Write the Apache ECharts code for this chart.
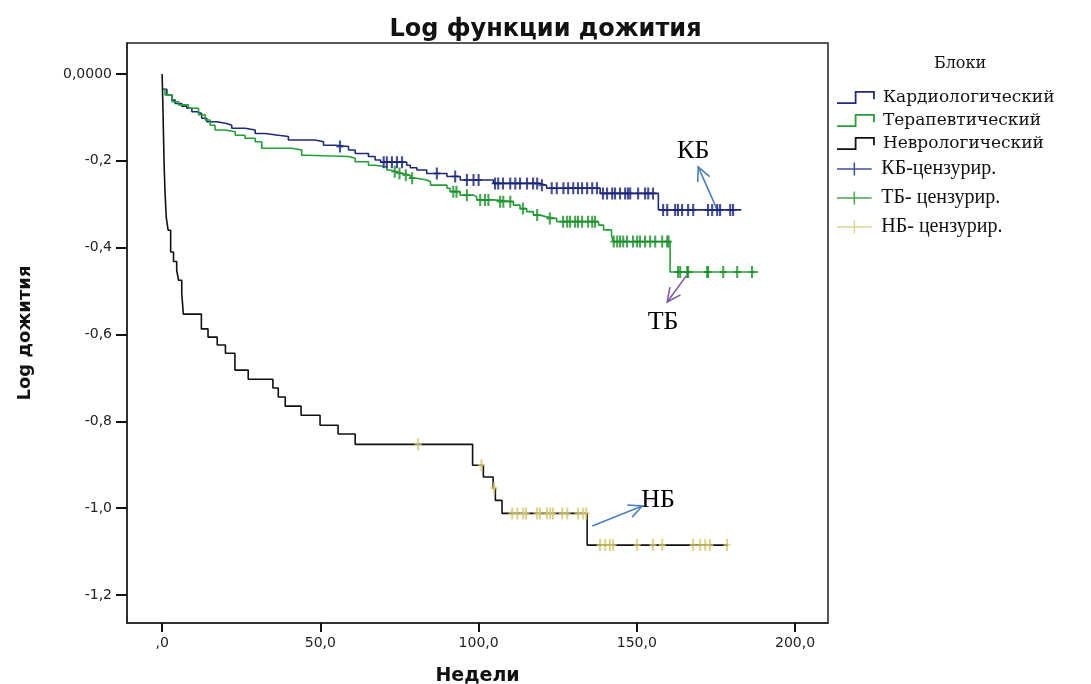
<!DOCTYPE html>
<html>
<head>
<meta charset="utf-8">
<script src="https://cdn.jsdelivr.net/npm/echarts@6/dist/echarts.min.js"></script>
<style>
  html, body { margin: 0; padding: 0; background: #fff; overflow: hidden; }
  #chart { width: 1091px; height: 684px; }
</style>
</head>
<body>
<div id="chart"></div>
<script>
// weeks / log survival step points
const kbWeeks = [0, 1.5, 3.1, 4.1, 6.2, 7.8, 9.4, 11, 12.5, 14.1, 17.3, 20.4, 22, 26.2, 29.4, 32.5, 36.7, 39.9, 48.3, 51,
  54.7, 58.9, 61, 65.2, 67.3, 69, 77.3, 78.4, 80.5, 83.6, 90, 94.2, 104.7, 119.4, 121.5, 138.4, 156.8, 183]
const kbLog = [-0.035, -0.048, -0.060, -0.068, -0.074, -0.079, -0.087, -0.091, -0.102, -0.110, -0.114, -0.118, -0.125, -0.129, -0.137, -0.141, -0.144, -0.152, -0.156, -0.164,
  -0.167, -0.175, -0.183, -0.19, -0.198, -0.203, -0.21, -0.216, -0.221, -0.229, -0.236, -0.244, -0.252, -0.256, -0.263, -0.275, -0.313, -0.313]

const tbWeeks = [0, 0.9, 3.1, 5.2, 8.3, 11.5, 13.6, 15.2, 16.7, 19.9, 23.1, 26.2, 29.4, 31.5, 41, 44.1, 45.7, 58.9, 61, 65.2,
  67.3, 71, 72, 74, 76, 78.4, 80.5, 83.6, 84.8, 90, 91, 94.2, 98.4, 99.4, 104.7, 111, 113.1, 115.2, 117.3, 119.4,
  121.5, 124.7, 137.9, 139.5, 142, 142.5, 160.5, 188.4]
const tbLog = [-0.035, -0.048, -0.064, -0.071, -0.079, -0.094, -0.106, -0.118, -0.129, -0.133, -0.141, -0.148, -0.156, -0.171, -0.175, -0.187, -0.19, -0.194, -0.202, -0.21,
  -0.214, -0.221, -0.225, -0.229, -0.233, -0.24, -0.244, -0.248, -0.256, -0.263, -0.271, -0.279, -0.283, -0.29, -0.294, -0.302, -0.31, -0.317, -0.325, -0.329,
  -0.333, -0.34, -0.348, -0.359, -0.371, -0.386, -0.456, -0.456]

const nbWeeks = [0, 0.2, 0.4, 0.6, 0.9, 1.3, 1.9, 2.7, 3.6, 4.6, 5.2, 6.2, 6.7, 12.4, 14.5, 17.4, 20, 23, 27.2, 35,
  36.7, 38.9, 43.9, 49.9, 55.6, 61, 98.1, 101.5, 104.6, 105.3, 107.4, 134.3, 178.8]
const nbLog = [0, -0.06, -0.13, -0.2, -0.27, -0.33, -0.36, -0.41, -0.432, -0.452, -0.475, -0.505, -0.553, -0.587, -0.606, -0.624, -0.643, -0.682, -0.703, -0.723,
  -0.744, -0.765, -0.786, -0.809, -0.829, -0.853, -0.901, -0.928, -0.954, -0.982, -1.012, -1.085, -1.085]

// censored observations (weeks)
const kbCensored = [56.2, 70, 71, 72.6, 74.2, 75.8, 86.8, 92.6, 96.3, 98.4, 100, 105.2, 106.2, 107.7, 110, 111.6, 113.1, 115.3, 117.2, 118.5,
  120, 123.1, 124.7, 126.8, 128.3, 129.9, 131.4, 132.7, 134.3, 135.9, 137.4, 139.3, 140.6, 142.2, 143.1, 144.7, 146.3, 147.2, 147.9, 150.4,
  152.6, 153.6, 155.1, 158.3, 159.6, 162.1, 163, 164.3, 166.2, 167.8, 172.5, 173.8, 175.4, 176.3, 179.5, 180.4]
const tbCensored = [73.5, 75, 77, 79, 92, 93, 96.3, 100.5, 102, 103.1, 106.8, 107.8, 110, 114, 118.5, 122.5, 126.7, 128, 128.9, 130.5,
  131.4, 132.7, 134.6, 135.9, 136.8, 142.7, 143.8, 144.7, 145.7, 146.9, 148.8, 150.1, 151, 152.6, 154.2, 155.8, 158, 159.6, 160,
  163, 163.7, 165.9, 166.2, 172.2, 172.5, 177.3, 181.7, 186.4]
const nbCensored = [80.9, 100.9, 104.9, 110.6, 112.2, 114.1, 115, 118.5, 119.4, 121.6, 122.6, 123.5, 126.4, 128, 131.4, 133, 134,
  138.4, 140, 141.5, 142.5, 150.1, 155.1, 158, 167.8, 170, 171.6, 173.1, 178.5]

const xTicks = [0, 50, 100, 150, 200]
const yTicks = [0, -0.2, -0.4, -0.6, -0.8, -1.0, -1.2]

const stepIcon = 'path://M0,10.5H15V1H32V8H30.5V2.5H16.5V12H0Z'
const censIcon = 'path://M0,5.3H32V6.7H0Z M15.3,0H16.7V12H15.3Z'
const plusMark = 'path://M3.5,0H6.5V12H3.5Z M0,5.1H10V6.9H0Z'

// value of the step curve at time t
function stepValue(weeks, logs, t) {
  let v = logs[0]
  for (let i = 0; i < weeks.length; i++) {
    if (weeks[i] <= t) v = logs[i]
  }
  return v
}

const pairs = (weeks, logs) => weeks.map((w, i) => [w, logs[i]])
const censPairs = (cens, weeks, logs) => cens.map((t) => [t, stepValue(weeks, logs, t)])

const chart = echarts.init(document.getElementById('chart'))

const lineSeries = (name, data, color) => ({
  name,
  type: 'line',
  step: 'end',
  showSymbol: false,
  data,
  itemStyle: { color },
  lineStyle: { color, width: 1.6 },
  z: 2,
})
const censSeries = (name, data, color) => ({
  name,
  type: 'scatter',
  symbol: plusMark,
  symbolSize: [7, 12],
  data,
  itemStyle: { color },
  z: 3,
})

chart.setOption({
  backgroundColor: '#fff',
  animation: false,
  title: {
    text: 'Log функции дожития',
    left: 'center',
    top: 13,
    textStyle: { fontFamily: 'DejaVu Sans', fontWeight: 'bold', fontSize: 24, color: '#111' },
  },
  legend: [
    {
      orient: 'vertical',
      left: 832,
      top: 84,
      itemWidth: 44,
      itemHeight: 13,
      itemGap: 6,
      textStyle: { fontFamily: 'DejaVu Serif', fontSize: 17, color: '#111' },
      data: [
        { name: 'Кардиологический', icon: stepIcon },
        { name: 'Терапевтический', icon: stepIcon },
        { name: 'Неврологический', icon: stepIcon },
      ],
    },
    {
      orient: 'vertical',
      left: 832,
      top: 154,
      itemWidth: 44,
      itemHeight: 13,
      itemGap: 9,
      textStyle: { fontFamily: 'Liberation Serif', fontSize: 20, color: '#111' },
      data: [
        { name: 'КБ-цензурир.', icon: censIcon },
        { name: 'ТБ- цензурир.', icon: censIcon },
        { name: 'НБ- цензурир.', icon: censIcon },
      ],
    },
  ],
  grid: {
    left: 127,
    top: 43,
    width: 701,
    height: 580,
    outerBoundsMode: 'none',
    show: true,
    borderColor: '#222',
    borderWidth: 1.5,
  },
  xAxis: {
    type: 'value',
    min: -11.1,
    max: 210.4,
    name: 'Недели',
    nameLocation: 'middle',
    nameGap: 44,
    nameTextStyle: { fontFamily: 'DejaVu Sans', fontWeight: 'bold', fontSize: 19, color: '#111' },
    axisLine: { show: true, onZero: false, lineStyle: { color: '#222', width: 1.5 } },
    axisTick: { show: true, customValues: xTicks, length: 9, lineStyle: { color: '#111', width: 2 } },
    axisLabel: {
      customValues: xTicks,
      margin: 13,
      fontFamily: 'DejaVu Sans',
      fontSize: 14,
      color: '#222',
      formatter: (v) => (v === 0 ? ',0' : v.toFixed(1).replace('.', ',')),
    },
    splitLine: { show: false },
  },
  yAxis: {
    type: 'value',
    min: -1.2644,
    max: 0.0714,
    name: 'Log дожития',
    nameLocation: 'middle',
    nameRotate: 90,
    nameGap: 93,
    nameTextStyle: { fontFamily: 'DejaVu Sans', fontWeight: 'bold', fontSize: 18, color: '#111' },
    axisLine: { show: true, onZero: false, lineStyle: { color: '#222', width: 1.5 } },
    axisTick: { show: true, customValues: yTicks, length: 11, lineStyle: { color: '#111', width: 2 } },
    axisLabel: {
      customValues: yTicks,
      margin: 15,
      fontFamily: 'DejaVu Sans',
      fontSize: 14,
      color: '#222',
      formatter: (v) => (v === 0 ? '0,0000' : v.toFixed(1).replace('.', ',')),
    },
    splitLine: { show: false },
  },
  series: [
    lineSeries('Кардиологический', pairs(kbWeeks, kbLog), '#1f2a7a'),
    lineSeries('Терапевтический', pairs(tbWeeks, tbLog), '#22a035'),
    lineSeries('Неврологический', pairs(nbWeeks, nbLog), '#111111'),
    censSeries('КБ-цензурир.', censPairs(kbCensored, kbWeeks, kbLog), '#17227a'),
    censSeries('ТБ- цензурир.', censPairs(tbCensored, tbWeeks, tbLog), '#1b8e2b'),
    censSeries('НБ- цензурир.', censPairs(nbCensored, nbWeeks, nbLog), '#d6ca70'),
  ],
})

// annotation labels and arrows, anchored in data coordinates
const notes = [
  { text: 'КБ', at: [167.8, -0.177], from: [175.4, -0.313], to: [169.4, -0.214], color: '#4a7fc1' },
  { text: 'ТБ', at: [158.3, -0.571], from: [165.6, -0.465], to: [159.6, -0.525], color: '#7e5aa8' },
  { text: 'НБ', at: [156.7, -0.981], from: [135.9, -1.041], to: [151.7, -0.995], color: '#4a7fc1' },
]

const graphics = [
  {
    type: 'text',
    x: 960,
    y: 64,
    style: { text: 'Блоки', font: '16px "DejaVu Serif"', fill: '#111', align: 'center', verticalAlign: 'middle' },
  },
]
notes.forEach((n) => {
  const p = chart.convertToPixel({ gridIndex: 0 }, n.at)
  const a = chart.convertToPixel({ gridIndex: 0 }, n.from)
  const b = chart.convertToPixel({ gridIndex: 0 }, n.to)
  const ang = Math.atan2(b[1] - a[1], b[0] - a[0])
  const len = 15
  const w1 = [b[0] - len * Math.cos(ang - 0.45), b[1] - len * Math.sin(ang - 0.45)]
  const w2 = [b[0] - len * Math.cos(ang + 0.45), b[1] - len * Math.sin(ang + 0.45)]
  graphics.push({
    type: 'text',
    x: p[0],
    y: p[1],
    style: { text: n.text, font: '26px "Liberation Serif"', fill: '#000', align: 'center', verticalAlign: 'middle' },
  })
  graphics.push({
    type: 'line',
    shape: { x1: a[0], y1: a[1], x2: b[0], y2: b[1] },
    style: { stroke: n.color, lineWidth: 1.6 },
  })
  graphics.push({
    type: 'polyline',
    shape: { points: [w1, b, w2] },
    style: { stroke: n.color, lineWidth: 1.6, fill: null },
  })
})
chart.setOption({ graphic: graphics })
</script>
</body>
</html>
